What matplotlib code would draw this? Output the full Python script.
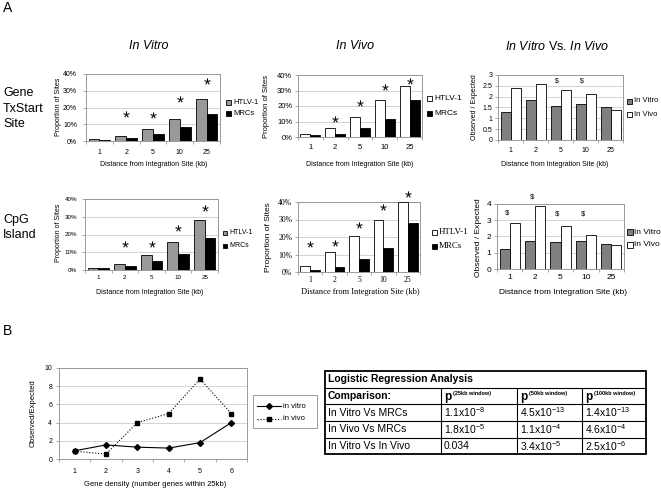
import matplotlib
matplotlib.use('Agg')
import matplotlib.pyplot as plt
from matplotlib.patches import Rectangle
from matplotlib.lines import Line2D
import numpy as np

W, H = 661, 493
plt.rcParams['font.family'] = ['Liberation Sans', 'DejaVu Sans']
plt.rcParams['mathtext.fontset'] = 'custom'
plt.rcParams['mathtext.rm'] = 'Liberation Sans'
plt.rcParams['mathtext.it'] = 'Liberation Sans:italic'
plt.rcParams['mathtext.bf'] = 'Liberation Sans:bold'

# ---------------- data ----------------
distances = ['1', '2', '5', '10', '25']
site_series = ['HTLV-1', 'MRCs']
cmp_series = ['In Vitro', 'In Vivo']

tx_vitro_htlv = [1.0, 3.2, 6.9, 13.0, 24.8]
tx_vitro_mrc = [0.8, 1.8, 4.1, 8.1, 16.2]
tx_vitro_star = [None, 16.0, 15.8, 25.0, 36.0]

tx_vivo_htlv = [2.1, 5.5, 13.2, 24.0, 33.0]
tx_vivo_mrc = [1.0, 1.8, 5.8, 11.8, 23.8]
tx_vivo_star = [None, 11.7, 21.7, 32.0, 36.0]

tx_cmp_vitro = [1.3, 1.85, 1.58, 1.65, 1.5]
tx_cmp_vivo = [2.38, 2.6, 2.3, 2.1, 1.38]
tx_cmp_dollar = [None, None, 2.72, 2.72, None]

cpg_vitro_htlv = [0.9, 3.6, 8.7, 15.5, 27.9]
cpg_vitro_mrc = [0.9, 2.1, 5.1, 9.0, 18.3]
cpg_vitro_star = [None, 14.7, 14.7, 23.6, 34.9]

cpg_vivo_htlv = [3.5, 11.7, 20.6, 29.7, 40.0]
cpg_vivo_mrc = [1.2, 2.9, 7.4, 13.8, 27.8]
cpg_vivo_star = [16.1, 16.7, 26.8, 37.0, 44.8]

cpg_cmp_vitro = [1.23, 1.74, 1.66, 1.74, 1.54]
cpg_cmp_vivo = [2.81, 3.88, 2.67, 2.07, 1.48]
cpg_cmp_dollar = [3.47, 4.4, 3.36, 3.36, None]

gene_density = [1, 2, 3, 4, 5, 6]
line_series = ['in vitro', 'in vivo']
density_vitro = [0.9, 1.55, 1.3, 1.2, 1.8, 4.0]
density_vivo = [0.85, 0.55, 4.0, 5.0, 8.8, 5.0]

table_title = 'Logistic Regression Analysis'
table_head = 'Comparison:'
table_windows = ['(25kb window)', '(50kb window)', '(100kb window)']
table_rows = ['In Vitro Vs MRCs', 'In Vivo Vs MRCs', 'In Vitro Vs In Vivo']
table_p = [
    [r'1.1x10$^{-8}$', r'4.5x10$^{-13}$', r'1.4x10$^{-13}$'],
    [r'1.8x10$^{-5}$', r'1.1x10$^{-4}$', r'4.6x10$^{-4}$'],
    [r'0.034', r'3.4x10$^{-5}$', r'2.5x10$^{-6}$'],
]

# ---------------- helpers ----------------
fig = plt.figure(figsize=(W / 100, H / 100), dpi=100)
fig.patch.set_facecolor('white')

PX2PT = 0.72


def fx(x):
    return x / W


def fy(y):
    return 1 - y / H


def add_ax(l, t, r, b):
    return fig.add_axes([l / W, 1 - b / H, (r - l) / W, (b - t) / H])


def ftext(x, y, s, **kw):
    kw.setdefault('ha', 'left')
    kw.setdefault('va', 'center')
    return fig.text(fx(x), fy(y), s, **kw)


def legend_square(x, y, size, fc, label, fs, family=None, tx=None):
    fig.add_artist(Rectangle((fx(x), fy(y + size / 2)), size / W, size / H,
                             transform=fig.transFigure, fc=fc, ec='black', lw=0.6))
    kw = {}
    if family:
        kw['family'] = family
    ftext(tx if tx is not None else x + size + 2, y, label, fontsize=fs, **kw)


GRAY_A = '#999999'
GRAY_B = '#808080'


def bar_axes(box, s1, s2, c1, c2, ymax, yticks, fmt, tick_fs, xtick_off, ylab_gap,
             family=None):
    ax = add_ax(*box)
    x = np.arange(len(distances))
    w = 0.4
    ax.bar(x - w / 2, s1, w, color=c1, edgecolor='black', lw=0.6, zorder=3)
    ax.bar(x + w / 2, s2, w, color=c2, edgecolor='black', lw=0.6, zorder=3)
    ax.set_xlim(-0.5, len(distances) - 0.5)
    ax.set_ylim(0, ymax)
    ax.set_yticks(yticks)
    kw = {'fontsize': tick_fs}
    if family:
        kw['family'] = family
    ax.set_yticklabels([fmt(v) for v in yticks], **kw)
    ax.set_xticks(x)
    ax.set_xticklabels(distances, **kw)
    ax.set_xticks(np.arange(-0.5, len(distances)), minor=True)
    fs_px = tick_fs / PX2PT
    ax.tick_params(axis='x', which='major', length=0,
                   pad=(xtick_off - 0.6 * fs_px) * PX2PT)
    ax.tick_params(axis='x', which='minor', length=2, color='#888888', width=0.5)
    ax.tick_params(axis='y', length=2, color='#888888', width=0.5,
                   pad=(ylab_gap - 2) * PX2PT)
    ax.yaxis.grid(True, color='#cccccc', lw=0.6, zorder=0)
    ax.set_axisbelow(True)
    for s in ax.spines.values():
        s.set_color('#999999')
        s.set_linewidth(0.7)
    return ax


def marks(ax, vals, sym, dx=0.0, ms=4.5):
    xs = [i + dx for i, v in enumerate(vals) if v is not None]
    ys = [v for v in vals if v is not None]
    ax.plot(xs, ys, linestyle='none', marker=sym, ms=ms, mew=0, color='black',
            zorder=5, clip_on=False)


pct = lambda v: f'{v}%'
num = lambda v: f'{v:g}'

# ---------------- panel A labels ----------------
ftext(3, 8, 'A', fontsize=10)
ftext(3, 331, 'B', fontsize=10)
ftext(149, 46, 'In Vitro', fontsize=9, style='italic', ha='center')
ftext(355, 46, 'In Vivo', fontsize=9, style='italic', ha='center')
ftext(557, 46, r'$\mathit{In\ Vitro}$ Vs. $\mathit{In\ Vivo}$', fontsize=9, ha='center')
for i, s in enumerate(['Gene', 'TxStart', 'Site']):
    ftext(3, 93 + 15.5 * i, s, fontsize=9)
for i, s in enumerate(['CpG', 'Island']):
    ftext(3, 220 + 15.5 * i, s, fontsize=9)

XL = 'Distance from Integration Site (kb)'
YL = 'Proportion of Sites'
YC = 'Observed / Expected'

# Row 1 : In Vitro (TxStart)
ax1 = bar_axes((86, 74, 220, 141), tx_vitro_htlv, tx_vitro_mrc, GRAY_A, 'black',
               40, [0, 10, 20, 30, 40], pct, 5, 12, 8)
marks(ax1, tx_vitro_star, '$*$')
ftext(154, 165, XL, fontsize=5, ha='center')
ftext(58, 107, YL, fontsize=5, ha='center', rotation=90)
legend_square(226, 102, 5, GRAY_A, site_series[0], 5.5)
legend_square(226, 113, 5, 'black', site_series[1], 5.5)

# Row 1 : In Vivo (TxStart)
ax2 = bar_axes((298, 75, 422, 137), tx_vivo_htlv, tx_vivo_mrc, 'white', 'black',
               40, [0, 10, 20, 30, 40], pct, 5.5, 12, 5)
marks(ax2, tx_vivo_star, '$*$')
ftext(360, 164, XL, fontsize=5, ha='center')
ftext(267, 106, YL, fontsize=5.5, ha='center', rotation=90)
legend_square(427, 99, 5, 'white', site_series[0], 6)
legend_square(427, 113, 5, 'black', site_series[1], 6)

# Row 1 : In Vitro vs In Vivo (TxStart)
ax3 = bar_axes((498, 75, 623, 140), tx_cmp_vitro, tx_cmp_vivo, GRAY_B, 'white',
               3, [0, 0.5, 1, 1.5, 2, 2.5, 3], num, 5, 11, 5)
for i, v in enumerate(tx_cmp_dollar):
    if v is not None:
        ax3.text(i - 0.15, v, '$', fontsize=5, ha='center', va='center')
ftext(555, 164, XL, fontsize=5, ha='center')
ftext(475, 107, YC, fontsize=5, ha='center', rotation=90)
legend_square(627, 101, 5, GRAY_B, cmp_series[0], 5.5)
legend_square(627, 114, 5, 'white', cmp_series[1], 5.5)

# Row 2 : In Vitro (CpG)
ax4 = bar_axes((85, 199, 218, 270), cpg_vitro_htlv, cpg_vitro_mrc, GRAY_A, 'black',
               40, [0, 10, 20, 30, 40], pct, 4.5, 9, 7)
marks(ax4, cpg_vitro_star, '$*$')
ftext(150, 293, XL, fontsize=5, ha='center')
ftext(58, 233, YL, fontsize=5, ha='center', rotation=90)
legend_square(223, 233, 4, GRAY_A, site_series[0], 5)
legend_square(223, 246, 4, 'black', site_series[1], 5)

# Row 2 : In Vivo (CpG) -- serif
SERIF = ['Liberation Serif', 'DejaVu Serif']
ax5 = bar_axes((298, 202, 420, 272), cpg_vivo_htlv, cpg_vivo_mrc, 'white', 'black',
               40, [0, 10, 20, 30, 40], pct, 5.5, 9, 5, family=SERIF)
marks(ax5, cpg_vivo_star, '$*$')
ftext(360, 292, XL, fontsize=6, ha='center', family=SERIF)
ftext(268, 237, YL, fontsize=6, ha='center', rotation=90)
legend_square(432, 232, 5, 'white', site_series[0], 6.5, family=SERIF)
legend_square(432, 246, 5, 'black', site_series[1], 6.5, family=SERIF)

# Row 2 : In Vitro vs In Vivo (CpG)
ax6 = bar_axes((497, 204, 624, 269), cpg_cmp_vitro, cpg_cmp_vivo, GRAY_B, 'white',
               4, [0, 1, 2, 3, 4], num, 6, 10, 5)
for i, v in enumerate(cpg_cmp_dollar):
    if v is not None:
        ax6.text(i - 0.12, v, '$', fontsize=5.5, ha='center', va='center', clip_on=False)
ftext(563, 292, XL, fontsize=6, ha='center')
ftext(478, 238, YC, fontsize=6, ha='center', rotation=90)
legend_square(627, 232, 5.5, GRAY_B, cmp_series[0], 6)
legend_square(627, 245, 5.5, 'white', cmp_series[1], 6)

# ---------------- panel B line chart ----------------
ax7 = add_ax(59, 368, 247, 459)
ax7.plot(gene_density, density_vitro, '-', marker='D', ms=3, color='black', lw=0.8,
         zorder=4)
ax7.plot(gene_density, density_vivo, ':', marker='s', ms=3.3, color='black', lw=0.8,
         zorder=4)
ax7.set_xlim(0.5, len(gene_density) + 0.5)
ax7.set_ylim(0, 10)
ax7.set_yticks([0, 2, 4, 6, 8, 10])
ax7.set_yticklabels(['0', '2', '4', '6', '8', '10'], fontsize=5)
ax7.set_xticks(gene_density)
ax7.set_xticklabels([str(v) for v in gene_density], fontsize=5)
ax7.set_xticks(np.arange(0.5, len(gene_density) + 1), minor=True)
ax7.tick_params(axis='x', which='major', length=0, pad=(13 - 0.6 * 7) * PX2PT)
ax7.tick_params(axis='x', which='minor', length=2, color='#888888', width=0.5)
ax7.tick_params(axis='y', length=2, color='#888888', width=0.5, pad=4 * PX2PT)
ax7.yaxis.grid(True, color='#cccccc', lw=0.6)
ax7.set_axisbelow(True)
for s in ax7.spines.values():
    s.set_color('#999999')
    s.set_linewidth(0.7)
ftext(155, 484, 'Gene density (number genes within 25kb)', fontsize=5.5, ha='center')
ftext(33, 413, 'Observed/Expected', fontsize=5.5, ha='center', rotation=90)

# line legend
fig.add_artist(Rectangle((fx(253), fy(428)), (317 - 253) / W, (428 - 395) / H,
                         transform=fig.transFigure, fill=False, ec='#999999', lw=0.7))
for yy, ls, mk, lab in [(406, '-', 'D', line_series[0]), (419, ':', 's', line_series[1])]:
    fig.add_artist(Line2D([fx(257), fx(281)], [fy(yy), fy(yy)], ls=ls, color='black',
                          lw=0.8, transform=fig.transFigure))
    fig.add_artist(Line2D([fx(269)], [fy(yy)], marker=mk, ms=3, color='black',
                          transform=fig.transFigure))
    ftext(283, yy, lab, fontsize=5.5)

# ---------------- table ----------------
cols = [325, 441, 517, 582, 646]
rows = [371, 388, 404, 421, 438, 454]
for y in rows[1:-1]:
    fig.add_artist(Line2D([fx(cols[0]), fx(cols[-1])], [fy(y), fy(y)], color='black',
                          lw=0.8, transform=fig.transFigure))
for x in cols[1:-1]:
    fig.add_artist(Line2D([fx(x), fx(x)], [fy(rows[1]), fy(rows[-1])], color='black',
                          lw=0.8, transform=fig.transFigure))
fig.add_artist(Rectangle((fx(cols[0]), fy(rows[-1])), (cols[-1] - cols[0]) / W,
                         (rows[-1] - rows[0]) / H, transform=fig.transFigure,
                         fill=False, ec='black', lw=1.3))


def rc(i):
    return (rows[i] + rows[i + 1]) / 2


ftext(cols[0] + 3, rc(0), table_title, fontsize=7.5, weight='bold')
ftext(cols[0] + 3, rc(1), table_head, fontsize=7.5, weight='bold')
for j, wlab in enumerate(table_windows):
    ftext(cols[j + 1] + 3, rc(1) + 1, 'p', fontsize=8.5, weight='bold')
    ftext(cols[j + 1] + 12, rc(1) - 3, wlab, fontsize=4, weight='bold')
for i, lab in enumerate(table_rows):
    ftext(cols[0] + 3, rc(i + 2), lab, fontsize=7.5)
    for j in range(3):
        ftext(cols[j + 1] + 3, rc(i + 2), table_p[i][j], fontsize=7.5)

fig.savefig('out.png', dpi=100, facecolor='white')
